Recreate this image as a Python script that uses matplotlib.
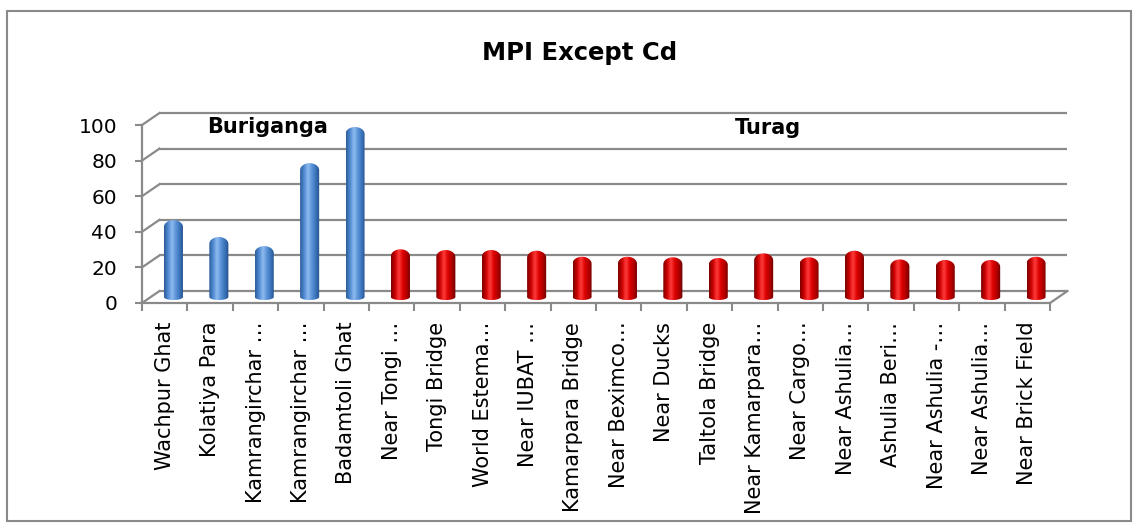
import numpy as np
import matplotlib
matplotlib.use("Agg")
import matplotlib.pyplot as plt
from matplotlib.path import Path
from matplotlib.patches import PathPatch, Rectangle
from matplotlib.colors import LinearSegmentedColormap

# sampling sites along the two rivers and their MPI (Cd excluded)
sites = ["Wachpur Ghat", "Kolatiya Para", "Kamrangirchar …", "Kamrangirchar …",
         "Badamtoli Ghat", "Near Tongi …", "Tongi Bridge", "World Estema…",
         "Near IUBAT …", "Kamarpara Bridge", "Near Beximco…", "Near Ducks",
         "Taltola Bridge", "Near Kamarpara…", "Near Cargo…", "Near Ashulia…",
         "Ashulia Beri…", "Near Ashulia -…", "Near Ashulia…", "Near Brick Field"]
mpi = [39.3, 29.8, 24.7, 71.3, 91.6,
       22.9, 22.5, 22.5, 22.1, 18.7, 18.7, 18.4, 18.0, 20.6, 18.4,
       22.1, 17.2, 16.9, 16.9, 18.7]
river = ["Buriganga"] * 5 + ["Turag"] * 15
yticks = [0, 20, 40, 60, 80, 100]

W, H = 1139, 528
fig = plt.figure(figsize=(W / 100, H / 100), dpi=100)
ax = fig.add_axes([142 / W, (H - 303) / H, 908 / W, 178 / H])

grid_c = "#8a8a8a"
DX, DY = 0.385, 6.74      # offset of the back wall (3-D depth) in data units
n = len(sites)

# back wall gridlines, side wall edges and floor
for v in yticks:
    ax.plot([DX, n + DX], [v + DY, v + DY], color=grid_c, lw=1.6,
            clip_on=False, zorder=1, solid_capstyle="butt")
    ax.plot([0, DX], [v, v + DY], color=grid_c, lw=1.6, clip_on=False, zorder=1)
ax.plot([n, n + DX], [0, DY], color=grid_c, lw=1.6, clip_on=False, zorder=1)

cmaps = {
    "Buriganga": LinearSegmentedColormap.from_list(
        "cyl_blue", ["#2c5c99", "#4f8ad2", "#8fbcef", "#5a93d8", "#3a72b8", "#24508a"]),
    "Turag": LinearSegmentedColormap.from_list(
        "cyl_red", ["#7a0000", "#cc0000", "#ff3c3c", "#dd0000", "#b00000", "#680000"]),
}

bw = 0.42        # cylinder width
cap_h = 3.9      # height of the rounded top
foot_h = 1.7     # depth of the bottom ellipse
base = DY / 2
t = np.linspace(0, np.pi, 40)

for i, (v, r) in enumerate(zip(mpi, river)):
    xc = i + 0.5 + DX / 2
    x0, x1 = xc - bw / 2, xc + bw / 2
    top = base + v
    # outline: bottom half-ellipse, right side, dome, left side
    bx = xc - np.cos(t) * bw / 2
    by = base - np.sin(t) * foot_h
    tx = xc + np.cos(t) * bw / 2
    ty = top + np.sin(t) * cap_h
    verts = np.vstack([np.column_stack([bx, by]),
                       np.column_stack([tx, ty]),
                       [[x0, base]]])
    codes = [Path.MOVETO] + [Path.LINETO] * (len(verts) - 2) + [Path.CLOSEPOLY]
    patch = PathPatch(Path(verts, codes), fc="none", ec="none", zorder=3)
    ax.add_patch(patch)
    grad = np.linspace(0, 1, 64).reshape(1, -1)
    im = ax.imshow(grad, cmap=cmaps[r], extent=[x0, x1, base - foot_h, top + cap_h],
                   aspect="auto", interpolation="bicubic", zorder=3)
    im.set_clip_path(patch)

ax.set_xlim(0, n)
ax.set_ylim(0, 100)

ax.set_yticks(yticks)
ax.tick_params(axis="y", length=5, width=1.5, color=grid_c, pad=13, labelsize=14.5)
ax.set_xticks(np.arange(n) + 0.5, sites, rotation=90, fontsize=15)
ax.set_xticks(np.arange(n + 1), minor=True)
ax.tick_params(axis="x", which="major", length=0, pad=13.5)
ax.tick_params(axis="x", which="minor", length=6, width=1.5, color=grid_c)

for s in ["top", "right"]:
    ax.spines[s].set_visible(False)
for s in ["left", "bottom"]:
    ax.spines[s].set_color(grid_c)
    ax.spines[s].set_linewidth(1.6)
ax.patch.set_alpha(0)

fig.text(580 / W, 1 - 53 / H, "MPI Except Cd", ha="center", va="center",
         fontsize=17.5, fontweight="bold")
fig.text(268 / W, 1 - 133 / H, "Buriganga", ha="center", va="baseline",
         fontsize=15, fontweight="bold")
fig.text(768 / W, 1 - 134 / H, "Turag", ha="center", va="baseline",
         fontsize=15, fontweight="bold")

fig.add_artist(Rectangle((7 / W, 1 - 521 / H), (1131 - 7) / W, (521 - 11) / H,
                         transform=fig.transFigure, fill=False, ec=grid_c, lw=1.5))

fig.savefig("out.png", dpi=100)
